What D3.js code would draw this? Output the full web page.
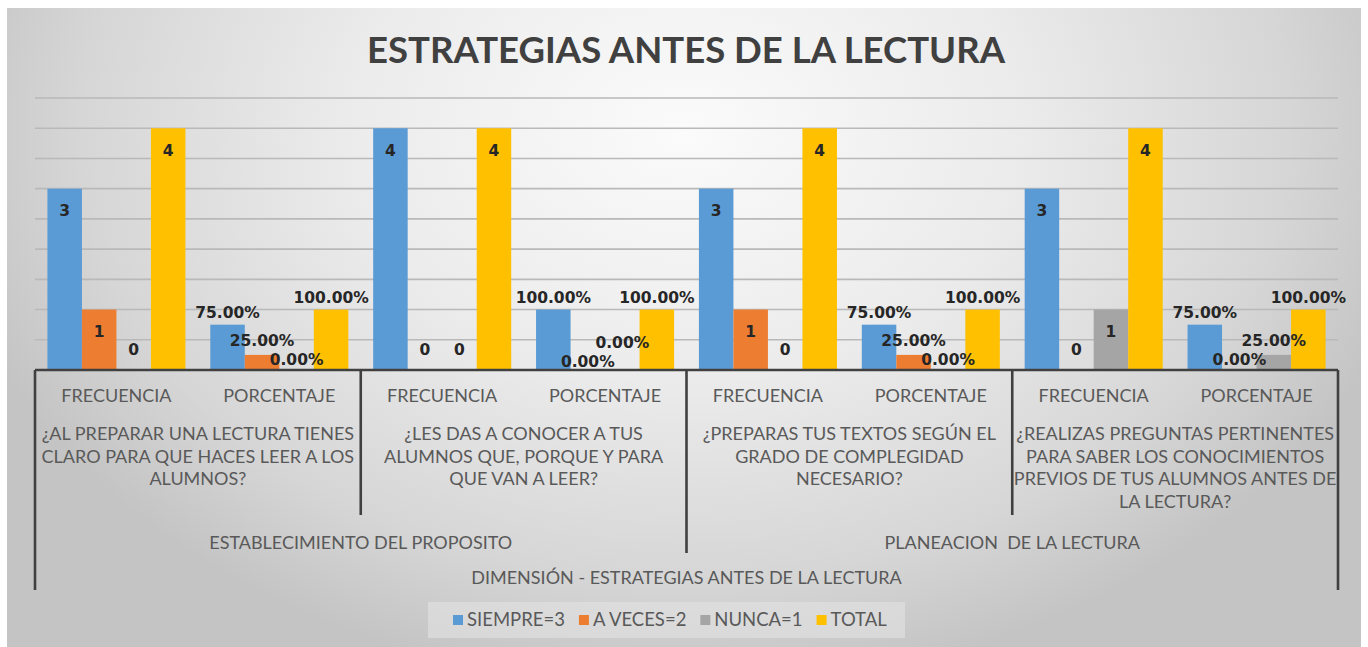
<!DOCTYPE html>
<html><head><meta charset="utf-8">
<script src="https://cdn.jsdelivr.net/npm/d3@7"></script>
<style>body{margin:0;background:#fff;overflow:hidden}svg{display:block}</style>
</head><body>
<svg id="chart" width="1368" height="647"></svg>
<script>
// ---------- data ----------
const title = "ESTRATEGIAS ANTES DE LA LECTURA";
const leafCategories = ["FRECUENCIA","PORCENTAJE","FRECUENCIA","PORCENTAJE","FRECUENCIA","PORCENTAJE","FRECUENCIA","PORCENTAJE"];
const questions = [
  ["¿AL PREPARAR UNA LECTURA TIENES","CLARO PARA QUE HACES LEER A LOS","ALUMNOS?"],
  ["¿LES DAS A CONOCER A TUS","ALUMNOS QUE, PORQUE Y PARA","QUE VAN A LEER?"],
  ["¿PREPARAS TUS TEXTOS SEGÚN EL","GRADO DE COMPLEGIDAD","NECESARIO?"],
  ["¿REALIZAS PREGUNTAS PERTINENTES","PARA SABER LOS CONOCIMIENTOS","PREVIOS DE TUS ALUMNOS ANTES DE","LA LECTURA?"]
];
const dimensions = ["ESTABLECIMIENTO DEL PROPOSITO","PLANEACION  DE LA LECTURA"];
const axisTitle = "DIMENSIÓN - ESTRATEGIAS ANTES DE LA LECTURA";
const seriesNames = ["SIEMPRE=3","A VECES=2","NUNCA=1","TOTAL"];
const siempre = [3, 0.75, 4, 1, 3, 0.75, 3, 0.75];
const aVeces  = [1, 0.25, 0, 0, 1, 0.25, 0, 0];
const nunca   = [0, 0, 0, 0, 0, 0, 1, 0.25];
const total   = [4, 1, 4, 1, 4, 1, 4, 1];
const gridTicks = [0.5,1,1.5,2,2.5,3,3.5,4,4.5];

const seriesValues = [siempre, aVeces, nunca, total];
const colors = ["#5B9BD5","#ED7D31","#A5A5A5","#FFC000"];

// ---------- layout ----------
const svg = d3.select("#chart");
const X0 = 35, X1 = 1338, BASE = 370, TOP = 98;

const defs = svg.append("defs");
const rg = defs.append("radialGradient").attr("id","bg")
  .attr("gradientUnits","userSpaceOnUse").attr("cx",684).attr("cy",130).attr("r",560)
  .attr("gradientTransform","translate(684,130) scale(1.35,1) translate(-684,-130)");
rg.append("stop").attr("offset","0").attr("stop-color","#fbfbfb");
rg.append("stop").attr("offset","0.45").attr("stop-color","#ebebeb");
rg.append("stop").attr("offset","0.8").attr("stop-color","#d6d6d6");
rg.append("stop").attr("offset","1").attr("stop-color","#c4c4c4");

svg.append("rect").attr("x",7).attr("y",8).attr("width",1361-7).attr("height",647-8).attr("fill","url(#bg)");

const y = d3.scaleLinear().domain([0,4.5]).range([BASE,TOP]);
const x = d3.scaleBand().domain(d3.range(leafCategories.length)).range([X0,X1]).padding(0);
const xs = d3.scaleBand().domain(d3.range(seriesNames.length)).range([0,x.bandwidth()]).paddingInner(0).paddingOuter(0.36);

// gridlines
svg.append("g").selectAll("line").data(gridTicks).join("line")
  .attr("x1",X0).attr("x2",X1).attr("y1",d=>y(d)).attr("y2",d=>y(d))
  .attr("stroke","#b9b9b9").attr("stroke-width",1.6);

// title
svg.append("text").attr("x",686).attr("y",50).attr("text-anchor","middle").attr("dy","0.35em")
  .attr("font-family","Lato").attr("font-weight",700).attr("font-size",36.5).attr("fill","#404040")
  .text(title);

// bars
const barData = [];
seriesValues.forEach((arr,s)=>arr.forEach((v,i)=>barData.push({s,i,v})));
svg.append("g").selectAll("rect").data(barData).join("rect")
  .attr("x",d=>x(d.i)+xs(d.s)).attr("width",xs.bandwidth())
  .attr("y",d=>y(d.v)).attr("height",d=>y(0)-y(d.v))
  .attr("fill",d=>colors[d.s]);

// data labels
const fmtPct = d3.format(".2%");
const labels = barData.map(d=>({
  ...d,
  cx: x(d.i)+xs(d.s)+xs.bandwidth()/2,
  cy: d.i%2===0 ? (d.v===0 ? y(0)-20 : y(d.v)+22) : y(d.v)-12,
  t: d.i%2===0 ? d3.format("d")(d.v) : fmtPct(d.v)
}));
const lblSel = svg.append("g").selectAll("text").data(labels).join("text")
  .attr("x",d=>d.cx).attr("dy","0.35em").attr("text-anchor","middle")
  .attr("font-family","DejaVu Sans").attr("font-weight",700).attr("font-size",15.5)
  .attr("fill","#262626")
  .text(d=>d.t);
lblSel.each(function(d){ d.w = this.getComputedTextLength(); });
// simple collision relaxation for percentage labels sharing a category
const SEP = 19, FLOOR = 362;
for (let it=0; it<20; it++){
  for (let i=0;i<labels.length;i++) for (let j=i+1;j<labels.length;j++){
    const a = labels[i], b = labels[j];
    if (a.i!==b.i || a.i%2===0) continue;
    if (Math.abs(a.cx-b.cx) >= (a.w+b.w)/2) continue;
    const dy = Math.abs(a.cy-b.cy);
    if (dy >= SEP) continue;
    const up = a.cy < b.cy ? a : b, lo = up===a ? b : a;
    const sh = (SEP-dy)/2;
    up.cy -= sh; lo.cy += sh;
    if (lo.cy > FLOOR){ up.cy -= (lo.cy-FLOOR); lo.cy = FLOOR; }
  }
}
lblSel.attr("y",d=>d.cy);

// category axis (multi-level)
const ax = svg.append("g");
const lineCol = "#404040", lw = 2.6;
ax.append("line").attr("x1",X0).attr("x2",X1).attr("y1",BASE).attr("y2",BASE).attr("stroke",lineCol).attr("stroke-width",lw);
[X0,X1].forEach(xx=>ax.append("line").attr("x1",xx).attr("x2",xx).attr("y1",BASE).attr("y2",590).attr("stroke",lineCol).attr("stroke-width",lw));
const qW = (X1-X0)/questions.length;
const dW = (X1-X0)/dimensions.length;
for (let k=1;k<dimensions.length;k++){
  const xx = X0 + k*dW;
  ax.append("line").attr("x1",xx).attr("x2",xx).attr("y1",BASE).attr("y2",553).attr("stroke",lineCol).attr("stroke-width",lw);
}
for (let k=1;k<questions.length;k++){
  if (k%2===0) continue;
  const xx = X0 + k*qW;
  ax.append("line").attr("x1",xx).attr("x2",xx).attr("y1",BASE).attr("y2",515).attr("stroke",lineCol).attr("stroke-width",lw);
}
function txt(g, xx, yy, s){
  return g.append("text").attr("x",xx).attr("y",yy).attr("dy","0.35em").attr("text-anchor","middle")
    .attr("font-family","Lato").attr("font-size",18).attr("fill","#595959")
    .style("white-space","pre").text(s);
}
leafCategories.forEach((c,i)=>txt(ax, x(i)+x.bandwidth()/2, 396, c));
questions.forEach((lines,q)=>lines.forEach((l,j)=>txt(ax, X0+q*qW+qW/2, 434+j*22.5, l)));
dimensions.forEach((d,k)=>txt(ax, X0+k*dW+dW/2, 543, d));
txt(ax, (X0+X1)/2, 578, axisTitle);

// legend
const lg = svg.append("g");
lg.append("rect").attr("x",428).attr("y",602).attr("width",477).attr("height",36).attr("fill","#e3e3e3").attr("opacity",0.6);
let lx = 453;
seriesNames.forEach((n,i)=>{
  lg.append("rect").attr("x",lx).attr("y",615).attr("width",10).attr("height",10).attr("fill",colors[i]);
  const t = lg.append("text").attr("x",lx+14).attr("y",620).attr("dy","0.35em")
    .attr("font-family","Lato").attr("font-size",18.5).attr("fill","#595959").text(n);
  lx += 14 + t.node().getComputedTextLength() + 14;
});
</script>
</body></html>
